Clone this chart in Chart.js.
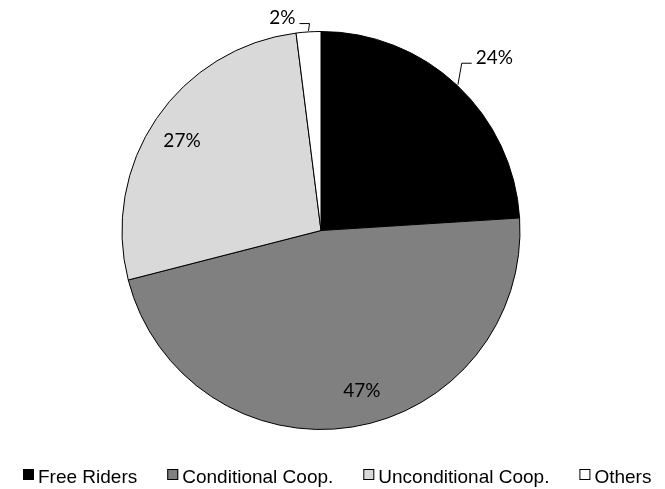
<!DOCTYPE html>
<html>
<head>
<meta charset="utf-8">
<script src="https://cdn.jsdelivr.net/npm/chart.js@4.4.0/dist/chart.umd.min.js"></script>
<style>
  html, body { margin: 0; padding: 0; background: #ffffff; }
  #wrap { position: relative; width: 665px; height: 489px; }
</style>
</head>
<body>
<div id="wrap"><canvas id="pieChart" width="665" height="489"></canvas></div>
<script>
// --- chart data ---
const categories = ['Free Riders', 'Conditional Coop.', 'Unconditional Coop.', 'Others'];
const shares = [24, 47, 27, 2];
const valueLabels = ['24%', '47%', '27%', '2%'];
const sliceColors = ['#000000', '#808080', '#d9d9d9', '#ffffff'];

// how each percentage label is placed (Excel "best fit" look)
const labelStyle = [
    { outside: true,  side: 1,  shift: 1.9,  factor: 1.23 },
    { outside: false, shift: -5.3, factor: 0.83 },
    { outside: false, shift: -1.5, factor: 0.83 },
    { outside: true,  side: -1, shift: -6.7, factor: 1.085 }
];

const LABEL_FONT = '19px Lato, "Open Sans", sans-serif';
const LEGEND_FONT = '19px "Liberation Sans", Arial, sans-serif';

/**
 * Draws percentage labels with leader lines for the small outside ones
 */
const pieLabels = {
    id: 'pieLabels',
    afterDatasetsDraw(chart) {
        const ctx = chart.ctx;
        const arcs = chart.getDatasetMeta(0).data;
        ctx.save();
        ctx.font = LABEL_FONT;
        ctx.fillStyle = '#000';
        ctx.strokeStyle = '#000';
        ctx.lineWidth = 1;
        ctx.textAlign = 'center';
        ctx.textBaseline = 'middle';

        arcs.forEach((arc, i) => {
            const st = labelStyle[i];
            const mid = (arc.startAngle + arc.endAngle) / 2;
            const R = arc.outerRadius;
            const a = mid + st.shift * Math.PI / 180;
            const lx = arc.x + Math.cos(a) * R * st.factor;
            const ly = arc.y + Math.sin(a) * R * st.factor;
            const text = valueLabels[i];

            if (st.outside) {
                const w = ctx.measureText(text).width;
                const ex = arc.x + Math.cos(mid) * (R + 1);
                const ey = arc.y + Math.sin(mid) * (R + 1);
                const hy = ly + 5.5;
                const hx = lx - st.side * (w / 2 + 4);
                const kx = hx - st.side * 10;
                ctx.beginPath();
                ctx.moveTo(ex, ey);
                ctx.lineTo(kx, hy);
                ctx.lineTo(hx, hy);
                ctx.stroke();
            }
            ctx.fillText(text, lx, ly);
        });
        ctx.restore();
    }
};

/**
 * Excel-like legend along the bottom (small boxed squares, tight gap)
 */
const bottomLegend = {
    id: 'bottomLegend',
    afterDraw(chart) {
        const ctx = chart.ctx;
        ctx.save();
        ctx.font = LEGEND_FONT;
        const box = 11, gap = 4, spacing = 30;
        const widths = categories.map(c => ctx.measureText(c).width);
        const total = widths.reduce((s, w) => s + box + gap + w, 0) + spacing * (categories.length - 1);
        let x = Math.round(337 - total / 2);
        const top = 469, base = 483;

        categories.forEach((c, i) => {
            ctx.fillStyle = sliceColors[i];
            ctx.fillRect(x, top, box, box);
            ctx.strokeStyle = '#000';
            ctx.lineWidth = 1;
            ctx.strokeRect(x + 0.5, top + 0.5, box - 1, box - 1);
            ctx.fillStyle = '#000';
            ctx.textBaseline = 'alphabetic';
            ctx.textAlign = 'left';
            ctx.fillText(c, x + box + gap, base);
            x += box + gap + widths[i] + spacing;
        });
        ctx.restore();
    }
};

new Chart(document.getElementById('pieChart').getContext('2d'), {
    type: 'pie',
    data: {
        labels: categories,
        datasets: [{
            data: shares,
            backgroundColor: sliceColors,
            borderColor: '#000000',
            borderWidth: 1
        }]
    },
    options: {
        responsive: false,
        animation: false,
        layout: {
            padding: { top: 31, bottom: 59, left: 0, right: 23 }
        },
        plugins: {
            legend: { display: false },
            tooltip: { enabled: false }
        }
    },
    plugins: [pieLabels, bottomLegend]
});
</script>
</body>
</html>
